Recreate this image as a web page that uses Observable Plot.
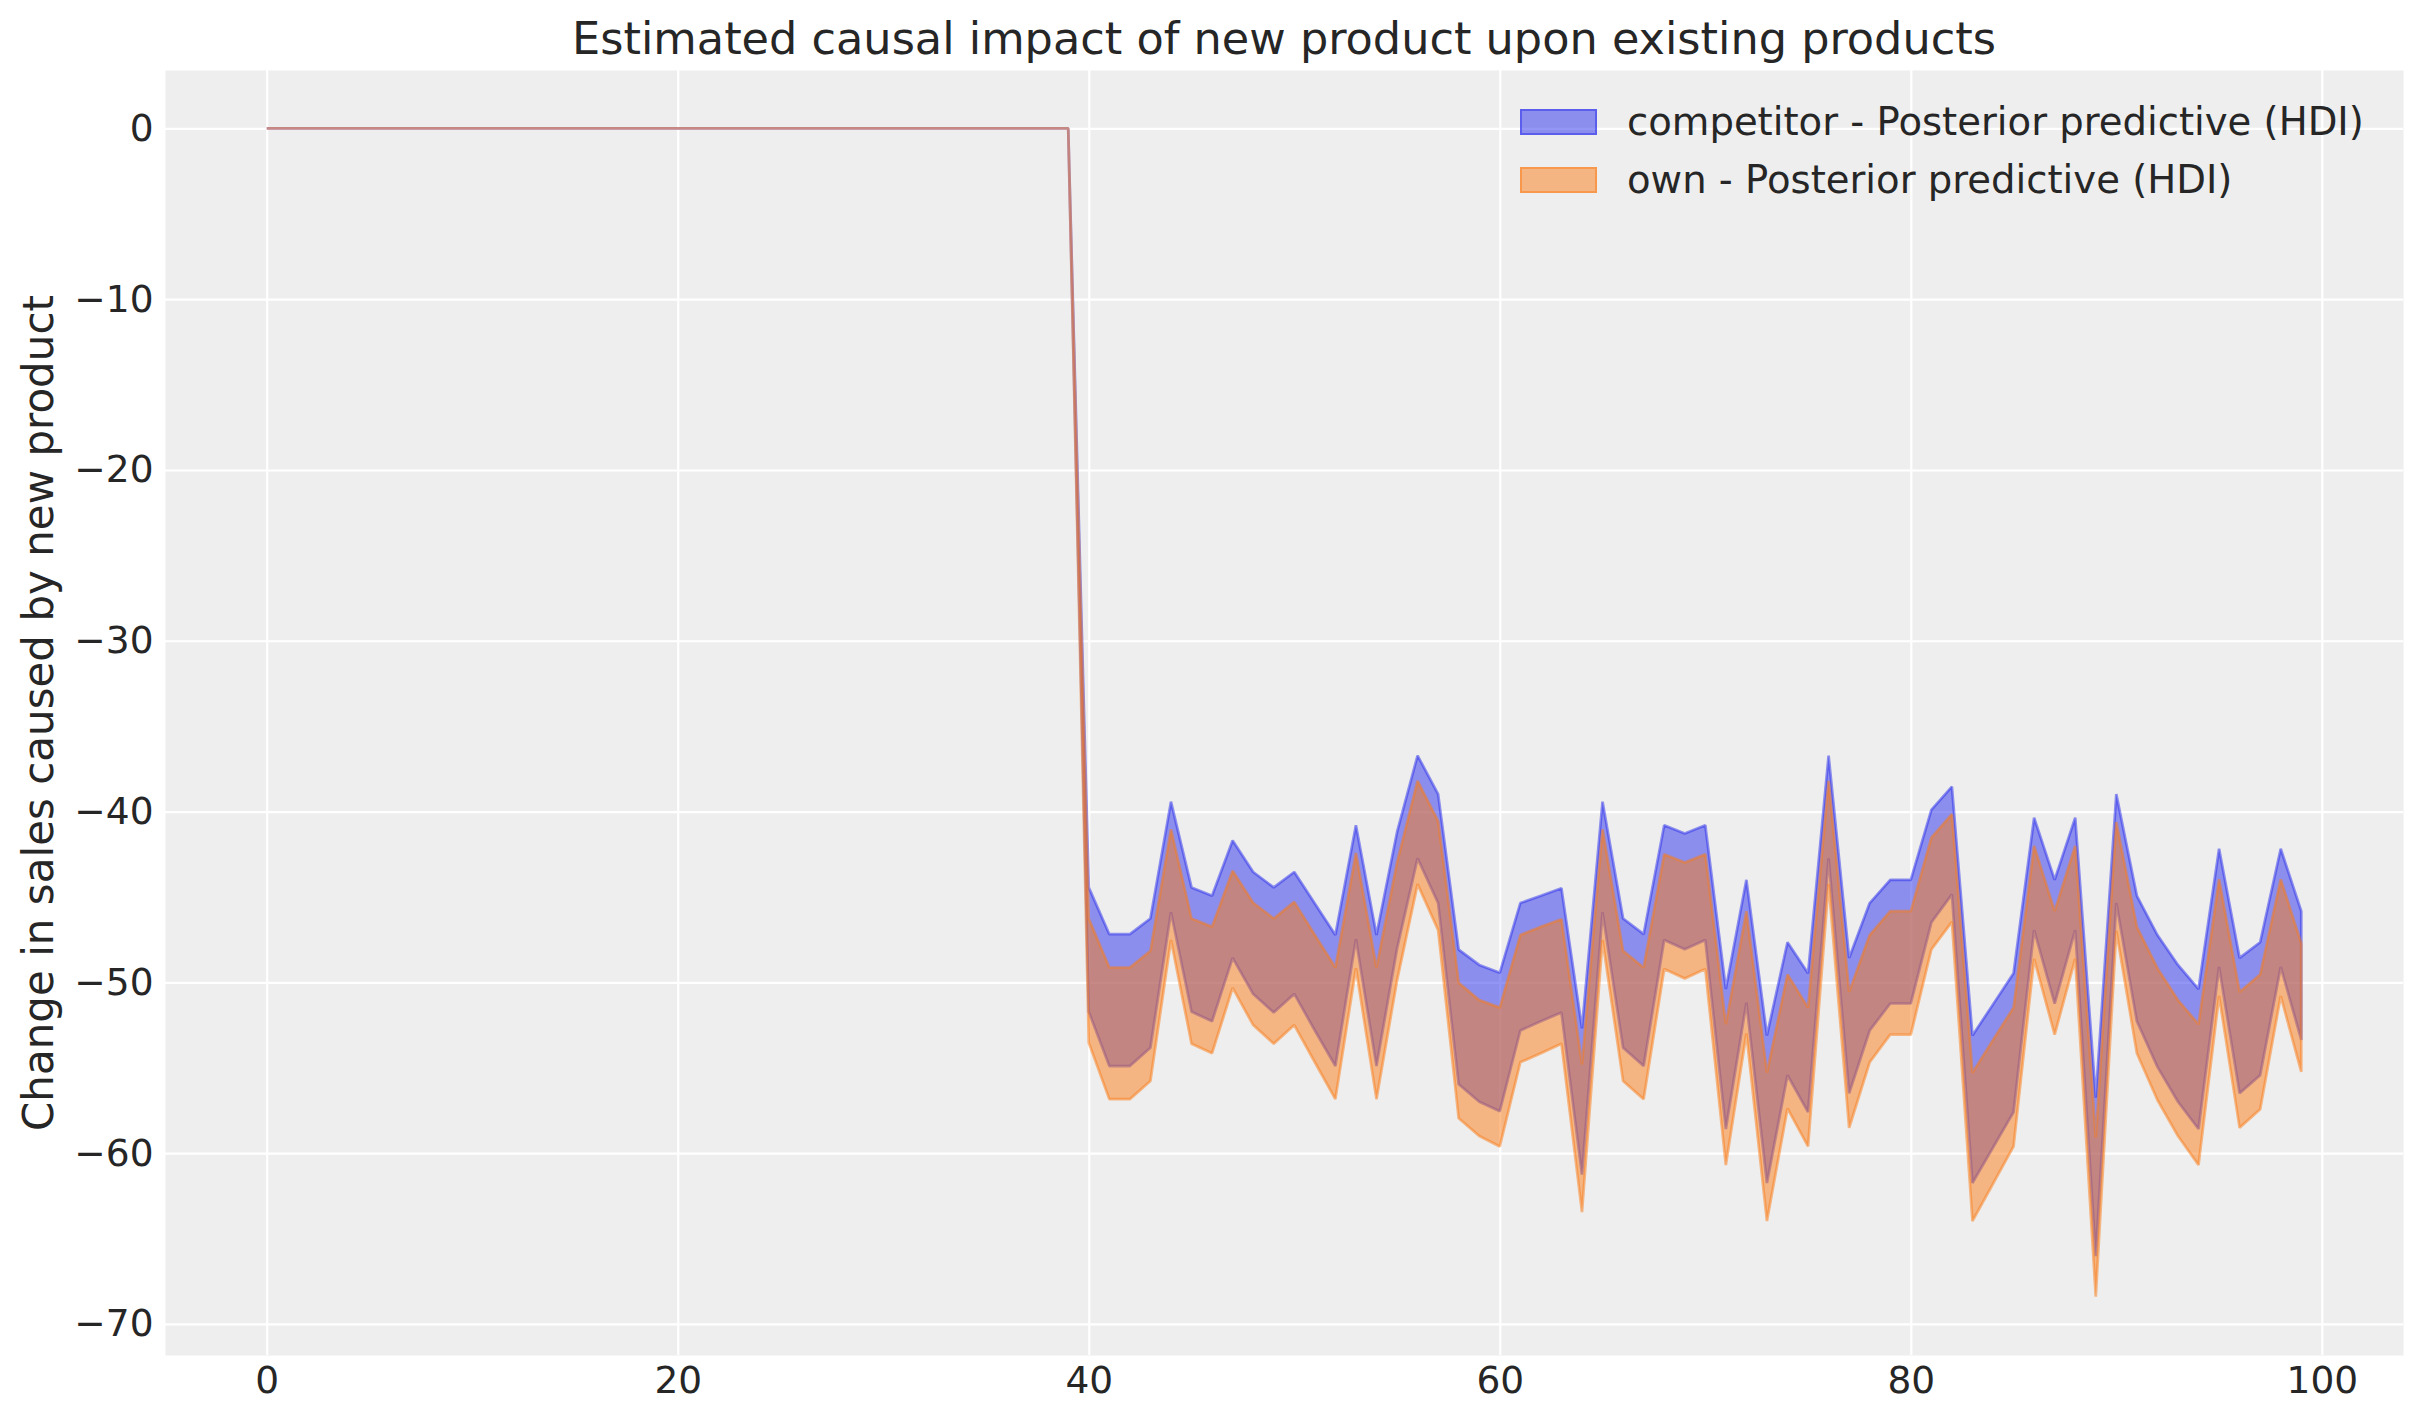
<!DOCTYPE html>
<html>
<head>
<meta charset="utf-8">
<script src="https://cdn.jsdelivr.net/npm/d3@7"></script>
<script src="https://cdn.jsdelivr.net/npm/@observablehq/plot@0.6"></script>
<style>
  html, body { margin: 0; padding: 0; background: white; }
  #fig { position: relative; width: 2423px; height: 1423px; font-family: "DejaVu Sans", sans-serif; color: #262626; }
  #title { position: absolute; left: 165px; width: 2238px; top: 17px; text-align: center; font-size: 44.6px; line-height: 1; white-space: nowrap; }
  #chart { position: absolute; left: 0; top: 70px; }
  .lg-row { position: absolute; left: 1520px; height: 58px; display: flex; align-items: center; }
  .lg-patch { width: 77px; height: 26px; box-sizing: border-box; border: 2.5px solid; margin-right: 30px; }
  .lg-text { font-size: 38.6px; line-height: 1; white-space: nowrap; }
</style>
</head>
<body>
<div id="fig">
  <div id="title"></div>
  <div id="chart"></div>
  <div id="legend"></div>
</div>
<script>
// time index
const timeIndex = [
  0,1,2,3,4,5,6,7,8,9,10,11,12,13,14,15,16,17,18,19,
  20,21,22,23,24,25,26,27,28,29,30,31,32,33,34,35,36,37,38,39,
  40,41,42,43,44,45,46,47,48,49,50,51,52,53,54,55,56,57,58,59,
  60,61,62,63,64,65,66,67,68,69,70,71,72,73,74,75,76,77,78,79,
  80,81,82,83,84,85,86,87,88,89,90,91,92,93,94,95,96,97,98,99
];

// competitor HDI upper bound
const competitorUpper = [
  0,0,0,0,0,0,0,0,0,0,0,0,0,0,0,0,0,0,0,0,
  0,0,0,0,0,0,0,0,0,0,0,0,0,0,0,0,0,0,0,0,
  -44.44,-47.18,-47.18,-46.26,-39.42,-44.44,-44.93,-41.70,-43.54,-44.44,
  -43.54,-45.39,-47.23,-40.80,-47.23,-41.21,-36.72,-38.98,-48.08,-48.98,
  -49.44,-45.36,-44.93,-44.49,-52.69,-39.42,-46.26,-47.18,-40.80,-41.29,
  -40.80,-50.39,-44.00,-53.11,-47.65,-49.47,-36.72,-48.57,-45.36,-44.00,
  -44.00,-39.90,-38.54,-53.11,-51.29,-49.47,-40.36,-44.00,-40.36,-56.75,
  -38.98,-44.93,-47.23,-48.98,-50.39,-42.18,-48.57,-47.65,-42.18,-45.83
];

// competitor HDI lower bound
const competitorLower = [
  0,0,0,0,0,0,0,0,0,0,0,0,0,0,0,0,0,0,0,0,
  0,0,0,0,0,0,0,0,0,0,0,0,0,0,0,0,0,0,0,0,
  -51.72,-54.90,-54.90,-53.83,-45.90,-51.72,-52.28,-48.57,-50.68,-51.77,
  -50.68,-52.82,-54.90,-47.48,-54.90,-48.03,-42.74,-45.36,-55.97,-56.99,
  -57.55,-52.82,-52.28,-51.77,-61.26,-45.90,-53.83,-54.90,-47.52,-48.06,
  -47.52,-58.59,-51.19,-61.75,-55.44,-57.60,-42.74,-56.50,-52.82,-51.24,
  -51.24,-46.50,-44.85,-61.75,-59.68,-57.60,-46.94,-51.24,-46.94,-66.04,
  -45.36,-52.28,-54.95,-56.99,-58.59,-49.10,-56.50,-55.44,-49.10,-53.37
];

// own HDI upper bound
const ownUpper = [
  0,0,0,0,0,0,0,0,0,0,0,0,0,0,0,0,0,0,0,0,
  0,0,0,0,0,0,0,0,0,0,0,0,0,0,0,0,0,0,0,0,
  -46.26,-49.13,-49.13,-48.16,-41.04,-46.26,-46.75,-43.47,-45.34,-46.26,
  -45.29,-47.23,-49.13,-42.43,-49.13,-42.99,-38.20,-40.56,-50.02,-51.04,
  -51.48,-47.23,-46.75,-46.31,-54.81,-41.04,-48.16,-49.13,-42.50,-42.99,
  -42.50,-52.45,-45.83,-55.29,-49.54,-51.48,-38.20,-50.56,-47.23,-45.83,
  -45.83,-41.53,-40.15,-55.29,-53.37,-51.48,-42.01,-45.83,-42.01,-59.08,
  -40.61,-46.75,-49.17,-51.04,-52.45,-43.96,-50.56,-49.54,-43.96,-47.72
];

// own HDI lower bound
const ownLower = [
  0,0,0,0,0,0,0,0,0,0,0,0,0,0,0,0,0,0,0,0,
  0,0,0,0,0,0,0,0,0,0,0,0,0,0,0,0,0,0,0,0,
  -53.54,-56.84,-56.84,-55.78,-47.52,-53.59,-54.15,-50.32,-52.50,-53.59,
  -52.50,-54.68,-56.84,-49.17,-56.84,-49.90,-44.25,-46.94,-57.96,-59.00,
  -59.61,-54.68,-54.15,-53.59,-63.45,-47.52,-55.78,-56.84,-49.22,-49.78,
  -49.22,-60.70,-53.00,-63.98,-57.38,-59.61,-44.25,-58.52,-54.68,-53.06,
  -53.06,-48.08,-46.46,-63.98,-61.80,-59.61,-48.62,-53.06,-48.62,-68.40,
  -46.99,-54.15,-56.89,-59.00,-60.70,-50.80,-58.52,-57.43,-50.80,-55.24
];

const seriesNames = ["competitor - Posterior predictive (HDI)", "own - Posterior predictive (HDI)"];
const seriesColors = ["#2a2eec", "#fa7c17"];
const xTicks = [0, 20, 40, 60, 80, 100];
const yTicks = [0, -10, -20, -30, -40, -50, -60, -70];
const titleText = "Estimated causal impact of new product upon existing products";
const yLabel = "Change in sales caused by new product";

const competitor = timeIndex.map((t, i) => ({t, lo: competitorLower[i], hi: competitorUpper[i]}));
const own = timeIndex.map((t, i) => ({t, lo: ownLower[i], hi: ownUpper[i]}));

const chart = Plot.plot({
  width: 2423,
  height: 1353,
  marginLeft: 165,
  marginRight: 20,
  marginTop: 0,
  marginBottom: 68,
  style: {fontFamily: "DejaVu Sans, sans-serif", color: "#262626", background: "transparent", overflow: "visible"},
  x: {domain: [-4.95, 103.95], ticks: xTicks},
  y: {domain: [-71.82, 3.42], ticks: yTicks},
  marks: [
    Plot.frame({fill: "#eeeeee", stroke: null}),
    Plot.gridX(xTicks, {stroke: "white", strokeOpacity: 1, strokeWidth: 2.2}),
    Plot.gridY(yTicks, {stroke: "white", strokeOpacity: 1, strokeWidth: 2.2}),
    Plot.areaY(competitor, {x: "t", y1: "lo", y2: "hi", fill: seriesColors[0], fillOpacity: 0.5,
      stroke: seriesColors[0], strokeOpacity: 0.5, strokeWidth: 2.7, strokeLinejoin: "miter"}),
    Plot.areaY(own, {x: "t", y1: "lo", y2: "hi", fill: seriesColors[1], fillOpacity: 0.5,
      stroke: seriesColors[1], strokeOpacity: 0.5, strokeWidth: 2.7, strokeLinejoin: "miter"}),
    Plot.axisX(xTicks, {tickSize: 0, tickPadding: 11, fontSize: 37.5, label: null}),
    Plot.axisY(yTicks, {tickSize: 0, tickPadding: 12, fontSize: 37.5, label: null}),
    Plot.text([yLabel], {frameAnchor: "left", textAnchor: "middle", lineAnchor: "middle", rotate: -90, dx: -126, fontSize: 42, text: d => d, fill: "#262626"})
  ]
});
document.getElementById("chart").appendChild(chart);

const legend = document.getElementById("legend");
const rowTops = [93, 151];
seriesNames.forEach((name, i) => {
  const row = document.createElement("div");
  row.className = "lg-row";
  row.style.top = rowTops[i] + "px";
  const patch = document.createElement("div");
  patch.className = "lg-patch";
  const c = d3.color(seriesColors[i]);
  patch.style.background = `rgba(${c.r},${c.g},${c.b},0.5)`;
  patch.style.borderColor = `rgba(${c.r},${c.g},${c.b},0.5)`;
  const label = document.createElement("span");
  label.className = "lg-text";
  label.textContent = name;
  row.appendChild(patch);
  row.appendChild(label);
  legend.appendChild(row);
});
document.getElementById("title").textContent = titleText;
</script>
</body>
</html>
